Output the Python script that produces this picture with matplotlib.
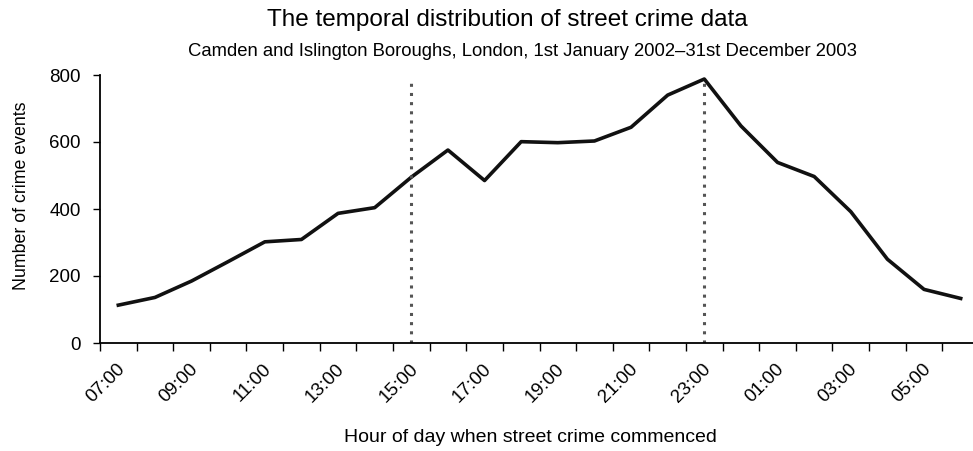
import matplotlib
matplotlib.use("Agg")
import matplotlib.pyplot as plt
import matplotlib.transforms as mtransforms
import numpy as np

hours = ["07:00","08:00","09:00","10:00","11:00","12:00","13:00","14:00","15:00","16:00",
         "17:00","18:00","19:00","20:00","21:00","22:00","23:00","00:00","01:00","02:00",
         "03:00","04:00","05:00","06:00"]
crimes = [113, 136, 185, 243, 302, 309, 387, 404, 495, 576,
          485, 601, 598, 603, 644, 740, 788, 648, 539, 497,
          392, 250, 160, 133]
marker_hours = ["15:00", "23:00"]
marker_height = 785

plt.rcParams['font.family'] = ['Liberation Sans', 'DejaVu Sans']

fig = plt.figure(figsize=(9.73, 4.51), dpi=100)
W, H = 973, 451
left, right = 100, 979
bottom, top = 343, 75
ax = fig.add_axes([left / W, (H - bottom) / H, (right - left) / W, (bottom - top) / H])

x = np.arange(len(hours))
ax.plot(x, crimes, color='#111111', lw=2.6, solid_joinstyle='round')
for mh in marker_hours:
    xi = hours.index(mh)
    ax.vlines(xi, 0, marker_height, colors='#555555', linestyles=(0, (1.0, 2.0)), lw=2.2)

ax.set_xlim(-0.5, len(hours) - 0.5)
ax.set_ylim(0, 800)
ax.set_yticks([0, 200, 400, 600, 800])
ax.tick_params(axis='y', labelsize=13.5, length=5, width=1, direction='out', pad=9)

ax.set_xticks(x[::2])
ax.set_xticklabels(hours[::2], rotation=45, ha='right', va='center',
                   rotation_mode='anchor', fontsize=13.5)
ax.tick_params(axis='x', which='major', length=0, pad=17)
ax.set_xticks(np.arange(len(hours) + 1) - 0.5, minor=True)
ax.tick_params(axis='x', which='minor', length=6, width=1, direction='out')
offset = mtransforms.ScaledTranslation(4 / 100, 0, fig.dpi_scale_trans)
for lab in ax.get_xticklabels():
    lab.set_transform(lab.get_transform() + offset)

for s in ['top', 'right']:
    ax.spines[s].set_visible(False)
for s in ['left', 'bottom']:
    ax.spines[s].set_linewidth(1.3)

fig.text(507 / W, 1 - 20 / H, "The temporal distribution of street crime data",
         ha='center', va='center', fontsize=17.5)
fig.text(523 / W, 1 - 52 / H,
         "Camden and Islington Boroughs, London, 1st January 2002\u201331st December 2003",
         ha='center', va='center', fontsize=13.3)
fig.text(22 / W, 1 - 196 / H, "Number of crime events", rotation=90,
         ha='center', va='center', fontsize=12.8)
fig.text(530 / W, 1 - 438 / H, "Hour of day when street crime commenced",
         ha='center', va='center', fontsize=14)

fig.savefig("out.png", dpi=100)
